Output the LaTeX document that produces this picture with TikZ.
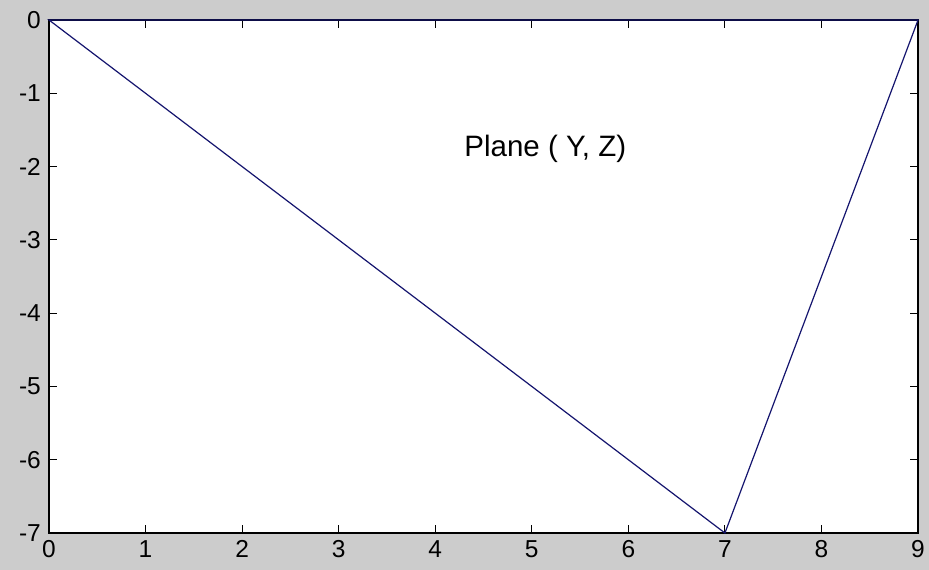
\documentclass[tikz,border=0pt]{standalone}
\usepackage{fontspec}
\setmainfont{Liberation Sans}
\definecolor{figbg}{RGB}{204,204,204}
\definecolor{lineblue}{RGB}{20,20,110}
\tikzset{
  ticklab/.style={font=\fontsize{24.5}{26}\selectfont, inner sep=0pt},
  axisbox/.style={draw=black, line width=1.4pt, fill=white},
  dataline/.style={draw=lineblue, line width=1.2pt, line join=miter},
  tickmark/.style={draw=black, line width=1pt}
}
\begin{document}
\begin{tikzpicture}[x=1pt,y=1pt]
  \fill[figbg] (0,0) rectangle (929,570);
  \useasboundingbox (0,0) rectangle (929,570);
  \begin{scope}[shift={(49,550)}, x=96.56pt, y=73.29pt]
    \draw[axisbox] (0,-7) rectangle (9,0);
    % ticks
    \foreach \i in {1,...,8} {
      \draw[tickmark] (\i,-7) -- ++(0,8pt);
      \draw[tickmark] (\i,0) -- ++(0,-8pt);
    }
    \foreach \j in {-1,...,-6} {
      \draw[tickmark] (0,\j) -- ++(8pt,0);
      \draw[tickmark] (9,\j) -- ++(-8pt,0);
    }
    % tick labels
    \foreach \i in {0,...,9} {
      \node[ticklab, anchor=north] (xl\i) at ([yshift=-7pt]\i,-7) {\i};
    }
    \node[ticklab, anchor=east] (yl0) at ([xshift=-8pt]0,0) {0};
    \foreach \j in {1,...,7} {
      \node[ticklab, anchor=east] (yl\j) at ([xshift=-8pt]0,-\j) {-\j};
    }
    % data
    \coordinate (p0) at (0,0);
    \coordinate (p1) at (7,-7);
    \coordinate (p2) at (9,0);
    \draw[dataline] (p0) -- (p1) -- (p2) -- cycle;
    \node[font=\fontsize{29.5}{32}\selectfont, inner sep=0pt] (lab) at (5.14,-1.76) {Plane ( Y, Z)};
  \end{scope}
\end{tikzpicture}
\end{document}
